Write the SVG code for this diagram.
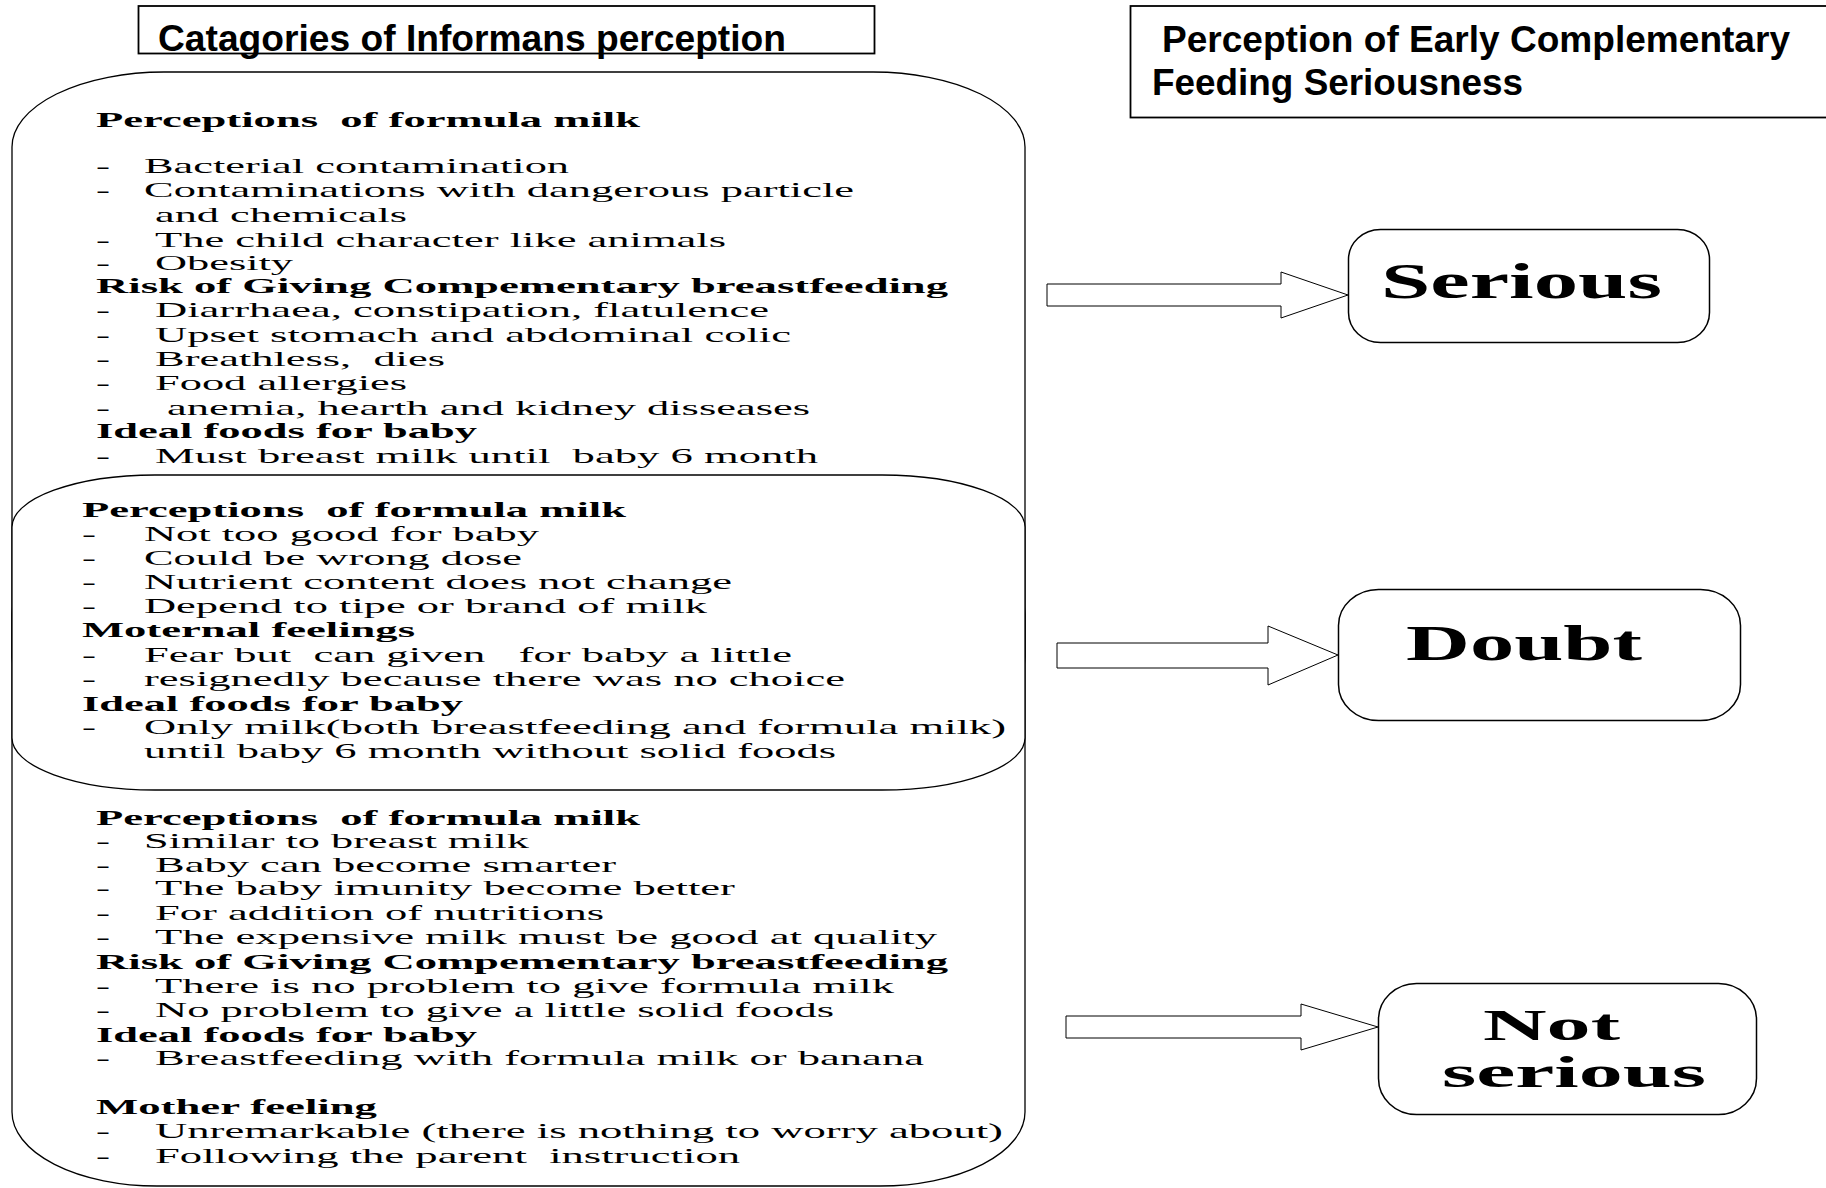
<svg xmlns="http://www.w3.org/2000/svg" width="1826" height="1188" viewBox="0 0 1826 1188">
<style>
text { white-space: pre; fill: #000; }
.t { font-family: "Liberation Sans", Arial, sans-serif; font-weight: bold; font-size: 37px; }
.r { font-family: "Liberation Serif", "Times New Roman", serif; font-size: 21px; }
.b { font-family: "Liberation Serif", "Times New Roman", serif; font-size: 21px; font-weight: bold; }
.lab { font-family: "Liberation Serif", "Times New Roman", serif; font-size: 50px; font-weight: bold; }
.lab2 { font-family: "Liberation Serif", "Times New Roman", serif; font-size: 45px; font-weight: bold; }
.box { fill: #fff; stroke: #000; stroke-width: 1.8; }
.blk { fill: #fff; stroke: #000; stroke-width: 1.3; }
.res { fill: #fff; stroke: #000; stroke-width: 1.5; }
.arr { fill: #fff; stroke: #000; stroke-width: 1; }
</style>
<rect width="1826" height="1188" fill="#fff"/>

<g id="title-categories">
<rect class="box" x="138.5" y="6" width="736" height="47.5"/>
<text class="t" x="158" y="51" textLength="628" lengthAdjust="spacingAndGlyphs">Catagories of Informans perception</text>
</g>

<g id="title-seriousness">
<rect class="box" x="1130.5" y="6" width="700" height="111.5"/>
<text class="t" x="1162" y="52" textLength="628" lengthAdjust="spacingAndGlyphs">Perception of Early Complementary</text>
<text class="t" x="1152" y="95" textLength="371" lengthAdjust="spacingAndGlyphs">Feeding Seriousness</text>
</g>

<g id="block-serious">
<rect class="blk" x="12" y="72" width="1013" height="660" rx="152" ry="75"/>
<text class="b" x="96" y="127" textLength="544" lengthAdjust="spacingAndGlyphs">Perceptions  of formula milk</text>
<text class="r" x="96" y="173" textLength="14" lengthAdjust="spacingAndGlyphs">-</text><text class="r" x="144" y="173" textLength="425" lengthAdjust="spacingAndGlyphs">Bacterial contamination</text>
<text class="r" x="96" y="197" textLength="14" lengthAdjust="spacingAndGlyphs">-</text><text class="r" x="144" y="197" textLength="710" lengthAdjust="spacingAndGlyphs">Contaminations with dangerous particle</text>
<text class="r" x="155" y="222" textLength="252" lengthAdjust="spacingAndGlyphs">and chemicals</text>
<text class="r" x="96" y="247" textLength="14" lengthAdjust="spacingAndGlyphs">-</text><text class="r" x="155" y="247" textLength="571" lengthAdjust="spacingAndGlyphs">The child character like animals</text>
<text class="r" x="96" y="270" textLength="14" lengthAdjust="spacingAndGlyphs">-</text><text class="r" x="155" y="270" textLength="138" lengthAdjust="spacingAndGlyphs">Obesity</text>
<text class="b" x="96" y="293" textLength="852" lengthAdjust="spacingAndGlyphs">Risk of Giving Compementary breastfeeding</text>
<text class="r" x="96" y="317" textLength="14" lengthAdjust="spacingAndGlyphs">-</text><text class="r" x="155" y="317" textLength="614" lengthAdjust="spacingAndGlyphs">Diarrhaea, constipation, flatulence</text>
<text class="r" x="96" y="342" textLength="14" lengthAdjust="spacingAndGlyphs">-</text><text class="r" x="155" y="342" textLength="636" lengthAdjust="spacingAndGlyphs">Upset stomach and abdominal colic</text>
<text class="r" x="96" y="366" textLength="14" lengthAdjust="spacingAndGlyphs">-</text><text class="r" x="155" y="366" textLength="290" lengthAdjust="spacingAndGlyphs">Breathless,  dies</text>
<text class="r" x="96" y="390" textLength="14" lengthAdjust="spacingAndGlyphs">-</text><text class="r" x="155" y="390" textLength="252" lengthAdjust="spacingAndGlyphs">Food allergies</text>
<text class="r" x="96" y="415" textLength="14" lengthAdjust="spacingAndGlyphs">-</text><text class="r" x="167" y="415" textLength="643" lengthAdjust="spacingAndGlyphs">anemia, hearth and kidney disseases</text>
<text class="b" x="96" y="438" textLength="381" lengthAdjust="spacingAndGlyphs">Ideal foods for baby</text>
<text class="r" x="96" y="463" textLength="14" lengthAdjust="spacingAndGlyphs">-</text><text class="r" x="155" y="463" textLength="663" lengthAdjust="spacingAndGlyphs">Must breast milk until  baby 6 month</text>
</g>

<g id="block-not-serious">
<rect class="blk" x="12" y="540" width="1013" height="646" rx="145" ry="74"/>
<text class="b" x="96" y="825" textLength="544" lengthAdjust="spacingAndGlyphs">Perceptions  of formula milk</text>
<text class="r" x="96" y="848" textLength="14" lengthAdjust="spacingAndGlyphs">-</text><text class="r" x="144" y="848" textLength="385" lengthAdjust="spacingAndGlyphs">Similar to breast milk</text>
<text class="r" x="96" y="872" textLength="14" lengthAdjust="spacingAndGlyphs">-</text><text class="r" x="155" y="872" textLength="461" lengthAdjust="spacingAndGlyphs">Baby can become smarter</text>
<text class="r" x="96" y="895" textLength="14" lengthAdjust="spacingAndGlyphs">-</text><text class="r" x="155" y="895" textLength="580" lengthAdjust="spacingAndGlyphs">The baby imunity become better</text>
<text class="r" x="96" y="920" textLength="14" lengthAdjust="spacingAndGlyphs">-</text><text class="r" x="155" y="920" textLength="449" lengthAdjust="spacingAndGlyphs">For addition of nutritions</text>
<text class="r" x="96" y="944" textLength="14" lengthAdjust="spacingAndGlyphs">-</text><text class="r" x="155" y="944" textLength="782" lengthAdjust="spacingAndGlyphs">The expensive milk must be good at quality</text>
<text class="b" x="96" y="969" textLength="852" lengthAdjust="spacingAndGlyphs">Risk of Giving Compementary breastfeeding</text>
<text class="r" x="96" y="993" textLength="14" lengthAdjust="spacingAndGlyphs">-</text><text class="r" x="155" y="993" textLength="739" lengthAdjust="spacingAndGlyphs">There is no problem to give formula milk</text>
<text class="r" x="96" y="1017" textLength="14" lengthAdjust="spacingAndGlyphs">-</text><text class="r" x="155" y="1017" textLength="679" lengthAdjust="spacingAndGlyphs">No problem to give a little solid foods</text>
<text class="b" x="96" y="1042" textLength="381" lengthAdjust="spacingAndGlyphs">Ideal foods for baby</text>
<text class="r" x="96" y="1065" textLength="14" lengthAdjust="spacingAndGlyphs">-</text><text class="r" x="155" y="1065" textLength="769" lengthAdjust="spacingAndGlyphs">Breastfeeding with formula milk or banana</text>
<text class="b" x="96" y="1114" textLength="281" lengthAdjust="spacingAndGlyphs">Mother feeling</text>
<text class="r" x="96" y="1138" textLength="14" lengthAdjust="spacingAndGlyphs">-</text><text class="r" x="155" y="1138" textLength="848" lengthAdjust="spacingAndGlyphs">Unremarkable (there is nothing to worry about)</text>
<text class="r" x="96" y="1163" textLength="14" lengthAdjust="spacingAndGlyphs">-</text><text class="r" x="155" y="1163" textLength="585" lengthAdjust="spacingAndGlyphs">Following the parent  instruction</text>
</g>

<g id="block-doubt">
<rect class="blk" x="12" y="475" width="1013" height="315" rx="143" ry="52"/>
<text class="b" x="82" y="517" textLength="544" lengthAdjust="spacingAndGlyphs">Perceptions  of formula milk</text>
<text class="r" x="82" y="541" textLength="14" lengthAdjust="spacingAndGlyphs">-</text><text class="r" x="144" y="541" textLength="395" lengthAdjust="spacingAndGlyphs">Not too good for baby</text>
<text class="r" x="82" y="565" textLength="14" lengthAdjust="spacingAndGlyphs">-</text><text class="r" x="144" y="565" textLength="378" lengthAdjust="spacingAndGlyphs">Could be wrong dose</text>
<text class="r" x="82" y="589" textLength="14" lengthAdjust="spacingAndGlyphs">-</text><text class="r" x="144" y="589" textLength="588" lengthAdjust="spacingAndGlyphs">Nutrient content does not change</text>
<text class="r" x="82" y="613" textLength="14" lengthAdjust="spacingAndGlyphs">-</text><text class="r" x="144" y="613" textLength="563" lengthAdjust="spacingAndGlyphs">Depend to tipe or brand of milk</text>
<text class="b" x="82" y="637" textLength="333" lengthAdjust="spacingAndGlyphs">Moternal feelings</text>
<text class="r" x="82" y="662" textLength="14" lengthAdjust="spacingAndGlyphs">-</text><text class="r" x="144" y="662" textLength="648" lengthAdjust="spacingAndGlyphs">Fear but  can given   for baby a little</text>
<text class="r" x="82" y="686" textLength="14" lengthAdjust="spacingAndGlyphs">-</text><text class="r" x="144" y="686" textLength="701" lengthAdjust="spacingAndGlyphs">resignedly because there was no choice</text>
<text class="b" x="82" y="711" textLength="381" lengthAdjust="spacingAndGlyphs">Ideal foods for baby</text>
<text class="r" x="82" y="734" textLength="14" lengthAdjust="spacingAndGlyphs">-</text><text class="r" x="144" y="734" textLength="862" lengthAdjust="spacingAndGlyphs">Only milk(both breastfeeding and formula milk)</text>
<text class="r" x="144" y="758" textLength="692" lengthAdjust="spacingAndGlyphs">until baby 6 month without solid foods</text>
</g>

<g id="connectors">
<polygon class="arr" points="1047,284 1281,284 1281,272 1348,295 1281,318 1281,306 1047,306"/>
<polygon class="arr" points="1057,643 1268,643 1268,626 1338,655 1268,685 1268,668 1057,668"/>
<polygon class="arr" points="1066,1016 1301,1016 1301,1004 1378,1027 1301,1050 1301,1038 1066,1038"/>
</g>

<g id="result-serious">
<rect class="res" x="1348.5" y="229.5" width="361" height="113" rx="32" ry="30"/>
<text class="lab" x="1381" y="298" textLength="281" lengthAdjust="spacingAndGlyphs">Serious</text>
</g>

<g id="result-doubt">
<rect class="res" x="1338.5" y="589.5" width="402" height="131" rx="40" ry="36"/>
<text class="lab" x="1406" y="660" textLength="236" lengthAdjust="spacingAndGlyphs">Doubt</text>
</g>

<g id="result-not-serious">
<rect class="res" x="1378.5" y="983.5" width="378" height="131" rx="38" ry="36"/>
<text class="lab2" x="1483" y="1040" textLength="137" lengthAdjust="spacingAndGlyphs">Not</text>
<text class="lab2" x="1442" y="1087" textLength="264" lengthAdjust="spacingAndGlyphs">serious</text>
</g>
</svg>
